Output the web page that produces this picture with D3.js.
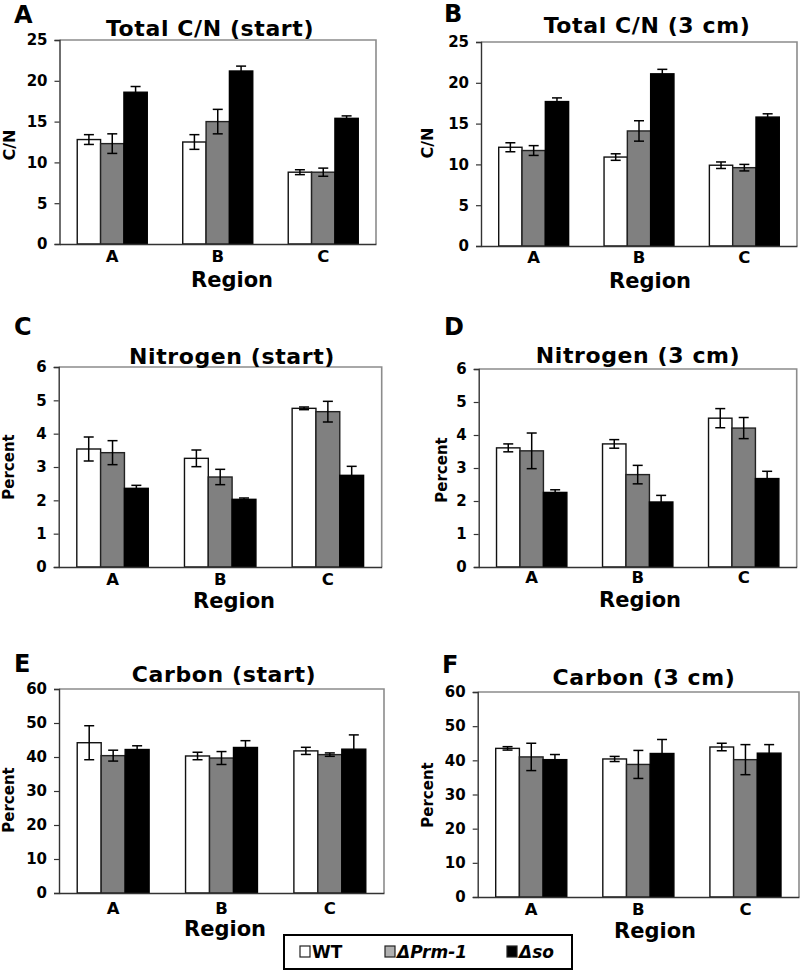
<!DOCTYPE html>
<html>
<head>
<meta charset="utf-8">
<script src="https://cdn.jsdelivr.net/npm/d3@7/dist/d3.min.js"></script>
<style>
  html, body { margin: 0; padding: 0; background: #fff; }
  svg { display: block; }
  svg text { font-family: "DejaVu Sans", Verdana, sans-serif; font-weight: bold; fill: #000; }
</style>
</head>
<body>
<svg id="chart" width="800" height="970"></svg>
<script>
// ---------------- DATA ----------------
const regions = ["A", "B", "C"];
const seriesNames = ["WT", "ΔPrm-1", "Δso"];

// values per region: [WT, ΔPrm-1, Δso]
const cnStartMean = [[12.8, 12.3, 18.6], [12.5, 15.0, 21.2], [8.8, 8.8, 15.4]];
const cnStartErr  = [[0.6, 1.2, 0.7], [0.9, 1.5, 0.6], [0.3, 0.5, 0.3]];

const cn3cmMean = [[12.1, 11.7, 17.7], [10.9, 14.1, 21.1], [9.9, 9.6, 15.8]];
const cn3cmErr  = [[0.55, 0.6, 0.45], [0.4, 1.25, 0.55], [0.4, 0.4, 0.4]];

const nStartMean = [[3.54, 3.43, 2.36], [3.26, 2.70, 2.03], [4.76, 4.66, 2.75]];
const nStartErr  = [[0.36, 0.36, 0.09], [0.25, 0.23, 0.04], [0.04, 0.31, 0.27]];

const n3cmMean = [[3.61, 3.52, 2.26], [3.73, 2.80, 1.97], [4.51, 4.21, 2.68]];
const n3cmErr  = [[0.12, 0.54, 0.08], [0.13, 0.28, 0.20], [0.29, 0.32, 0.22]];

const cStartMean = [[44.2, 40.4, 42.2], [40.3, 39.7, 42.8], [41.8, 40.7, 42.3]];
const cStartErr  = [[5.0, 1.6, 1.1], [1.1, 1.9, 2.0], [1.05, 0.5, 4.2]];

const c3cmMean = [[43.5, 41.0, 40.2], [40.4, 38.8, 42.0], [43.9, 40.2, 42.1]];
const c3cmErr  = [[0.5, 4.0, 1.5], [0.75, 4.1, 4.1], [1.1, 4.4, 2.5]];

const cnTicks = [0, 5, 10, 15, 20, 25];
const nTicks = [0, 1, 2, 3, 4, 5, 6];
const cTicks = [0, 10, 20, 30, 40, 50, 60];

const panelLetters = ["A", "B", "C", "D", "E", "F"];
const panelTitles = ["Total C/N (start)", "Total C/N (3 cm)", "Nitrogen (start)",
                     "Nitrogen (3 cm)", "Carbon (start)", "Carbon (3 cm)"];
const yLabels = ["C/N", "C/N", "Percent", "Percent", "Percent", "Percent"];
const xLabel = "Region";

// ---------------- LAYOUT ----------------
const layout = [
  { x0: 59.5, x1: 376, y0: 40,  y1: 244, tx: 210, ty: 36,  lx: 14,  ly: 23,  yl: 15,  ylc: 145, xtb: 262, rx: 232, rb: 287 },
  { x0: 481,  x1: 797, y0: 42,  y1: 246, tx: 647, ty: 33,  lx: 444, ly: 22,  yl: 433, ylc: 143, xtb: 263, rx: 650, rb: 288 },
  { x0: 58.7, x1: 381.7, y0: 367, y1: 567, tx: 232, ty: 364, lx: 14, ly: 335, yl: 14, ylc: 467, xtb: 585, rx: 234, rb: 608 },
  { x0: 478.7, x1: 796.7, y0: 369, y1: 567, tx: 638, ty: 363, lx: 444, ly: 335, yl: 447, ylc: 470, xtb: 583, rx: 640, rb: 607 },
  { x0: 59,   x1: 384, y0: 689, y1: 893, tx: 224, ty: 682, lx: 14,  ly: 672, yl: 14,  ylc: 800, xtb: 914, rx: 225, rb: 936 },
  { x0: 477.7, x1: 799, y0: 692, y1: 897, tx: 644, ty: 685, lx: 442, ly: 673, yl: 433, ylc: 795, xtb: 915, rx: 655, rb: 938 }
];

const panelMeans = [cnStartMean, cn3cmMean, nStartMean, n3cmMean, cStartMean, c3cmMean];
const panelErrs = [cnStartErr, cn3cmErr, nStartErr, n3cmErr, cStartErr, c3cmErr];
const panelTicks = [cnTicks, cnTicks, nTicks, nTicks, cTicks, cTicks];

const fills = ["#ffffff", "#808080", "#000000"];
const strokes = ["#111", "#222", "#000"];

const svg = d3.select("#chart");

layout.forEach((L, pi) => {
  const g = svg.append("g");
  const ticks = panelTicks[pi];
  const y = d3.scaleLinear().domain([0, ticks[ticks.length - 1]]).range([L.y1, L.y0]);
  const x = d3.scaleBand().domain(regions).range([L.x0, L.x1]).padding(0);
  const xs = d3.scaleBand().domain(seriesNames).range([0, x.bandwidth()])
               .paddingInner(0).paddingOuter(0.76);

  // frame: top/right light grey
  g.append("path")
    .attr("d", `M${L.x0},${L.y0}H${L.x1}V${L.y1}`)
    .attr("fill", "none").attr("stroke", "#8c8c8c").attr("stroke-width", 1.6);

  // bars
  const rows = [];
  regions.forEach((r, ri) => seriesNames.forEach((s, si) => {
    rows.push({ r, s, si, v: panelMeans[pi][ri][si], e: panelErrs[pi][ri][si] });
  }));

  g.selectAll("rect.bar").data(rows).enter().append("rect")
    .attr("class", "bar")
    .attr("x", d => x(d.r) + xs(d.s))
    .attr("width", xs.bandwidth())
    .attr("y", d => y(d.v))
    .attr("height", d => y(0) - y(d.v))
    .attr("fill", d => fills[d.si])
    .attr("stroke", d => strokes[d.si])
    .attr("stroke-width", 1.4);

  // error bars
  const eb = g.selectAll("g.eb").data(rows).enter().append("g").attr("class", "eb");
  const cx = d => x(d.r) + xs(d.s) + xs.bandwidth() / 2;
  const capW = 5;
  eb.append("line")
    .attr("x1", cx).attr("x2", cx)
    .attr("y1", d => y(d.v + d.e)).attr("y2", d => y(d.v - d.e))
    .attr("stroke", "#000").attr("stroke-width", 1.5);
  eb.append("line")
    .attr("x1", d => cx(d) - capW).attr("x2", d => cx(d) + capW)
    .attr("y1", d => y(d.v + d.e)).attr("y2", d => y(d.v + d.e))
    .attr("stroke", "#000").attr("stroke-width", 1.5);
  eb.append("line")
    .attr("x1", d => cx(d) - capW).attr("x2", d => cx(d) + capW)
    .attr("y1", d => y(d.v - d.e)).attr("y2", d => y(d.v - d.e))
    .attr("stroke", "#000").attr("stroke-width", 1.5);

  // y axis
  const yAxis = d3.axisLeft(y).tickValues(ticks).tickSize(5).tickPadding(7).tickFormat(d3.format("d"));
  const ya = g.append("g").attr("transform", `translate(${L.x0},0)`).call(yAxis)
    .attr("font-size", 15).attr("font-family", "DejaVu Sans").attr("font-weight", "bold");
  ya.select(".domain").attr("stroke", "#333").attr("stroke-width", 1.4);
  ya.selectAll(".tick line").attr("stroke", "#333").attr("stroke-width", 1.2);
  ya.selectAll(".tick text").attr("fill", "#000").style("font-size", "15px");

  // x axis
  const xAxis = d3.axisBottom(x).tickSize(0).tickPadding(0);
  const xa = g.append("g").attr("transform", `translate(0,${L.y1})`).call(xAxis)
    .attr("font-size", 16.5).attr("font-family", "DejaVu Sans").attr("font-weight", "bold");
  xa.select(".domain").attr("stroke", "#333").attr("stroke-width", 1.4);
  xa.selectAll(".tick text").attr("dy", null).attr("y", L.xtb - L.y1)
    .attr("fill", "#000").style("font-size", "16.5px");

  // labels
  g.append("text").attr("x", L.tx).attr("y", L.ty).attr("text-anchor", "middle")
    .style("font-size", "22px").style("letter-spacing", "0.6px").text(panelTitles[pi]);
  g.append("text").attr("x", L.lx).attr("y", L.ly)
    .style("font-size", "24px").text(panelLetters[pi]);
  g.append("text").attr("transform", `translate(${L.yl},${L.ylc}) rotate(-90)`)
    .attr("text-anchor", "middle")
    .style("font-size", yLabels[pi] === "C/N" ? "16px" : "15px").text(yLabels[pi]);
  g.append("text").attr("x", L.rx).attr("y", L.rb).attr("text-anchor", "middle")
    .style("font-size", "21px").text(xLabel);
});

// ---------------- LEGEND ----------------
const legendFills = ["#ffffff", "#b0b0b0", "#000000"];
const legendX = [300, 385, 507];
const lg = svg.append("g");
lg.append("rect").attr("x", 284).attr("y", 935).attr("width", 288).attr("height", 34)
  .attr("fill", "#fff").attr("stroke", "#000").attr("stroke-width", 2);
seriesNames.forEach((s, i) => {
  lg.append("rect").attr("x", legendX[i]).attr("y", 946).attr("width", 10).attr("height", 11)
    .attr("fill", legendFills[i]).attr("stroke", "#222").attr("stroke-width", 1.2);
  lg.append("text").attr("x", legendX[i] + 12).attr("y", 958)
    .style("font-size", "17px")
    .style("font-style", i === 0 ? "normal" : "italic")
    .text(s);
});
</script>
</body>
</html>
